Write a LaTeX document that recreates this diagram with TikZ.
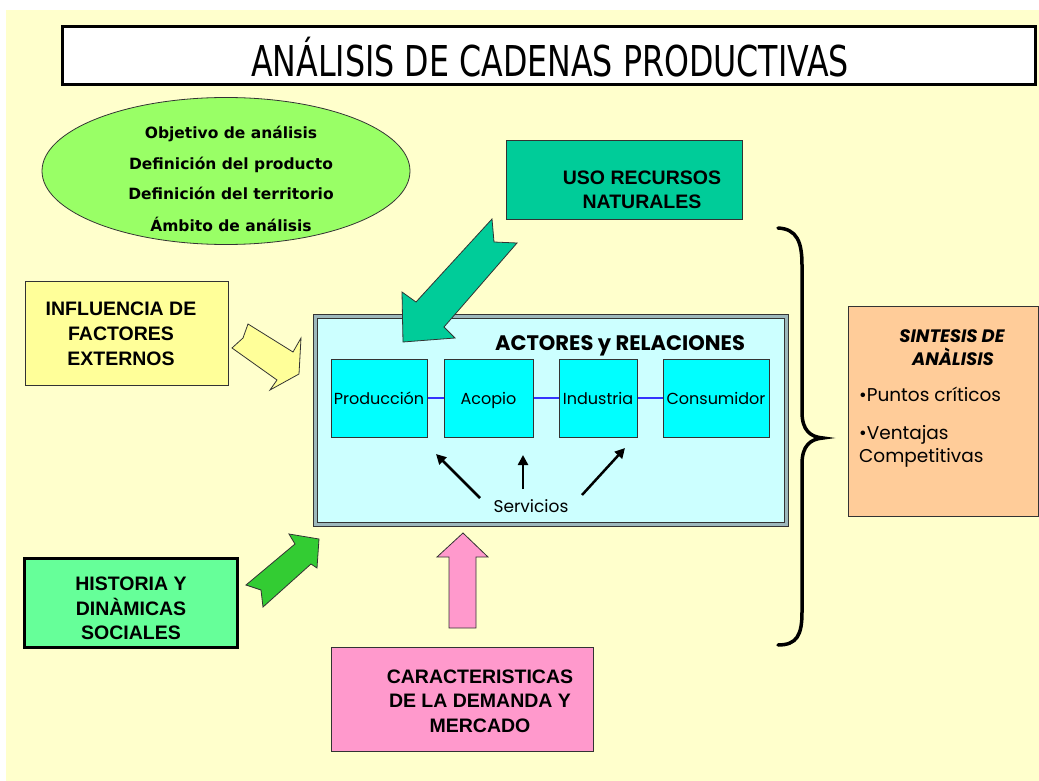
\documentclass[tikz,border=0pt]{standalone}
\usepackage{fontspec}
\setmainfont{Liberation Sans}
\newfontfamily\dvfont{DejaVu Sans}
\newfontfamily\popfont{Poppins}
\usetikzlibrary{arrows.meta}
\definecolor{cream}{HTML}{FFFFCC}
\definecolor{ellgreen}{HTML}{99FF66}
\definecolor{teal}{HTML}{00CC99}
\definecolor{lyellow}{HTML}{FFFF99}
\definecolor{mint}{HTML}{66FF99}
\definecolor{agreen}{HTML}{33CC33}
\definecolor{lcyan}{HTML}{CCFFFF}
\definecolor{cyanbox}{HTML}{00FFFF}
\definecolor{peach}{HTML}{FFCC99}
\definecolor{pink}{HTML}{FF99CC}
\definecolor{band}{HTML}{9DB7BC}
\definecolor{edge}{HTML}{333333}
\definecolor{linkblue}{HTML}{3333FF}
\begin{document}
\begin{tikzpicture}[x=1pt,y=-1pt,
  boxbase/.style={draw=edge, line width=1pt, inner sep=0pt},
  arialb/.style={font=\fontsize{19.5}{24}\selectfont\bfseries, inner sep=0pt, anchor=base},
  elltext/.style={font=\dvfont\fontsize{15.5}{18}\selectfont\bfseries, inner sep=0pt, anchor=base},
  gothic/.style={font=\popfont\fontsize{16}{19}\selectfont, inner sep=0pt, anchor=base},
  sintxt/.style={font=\popfont\fontsize{18.5}{21}\selectfont, inner sep=0pt, anchor=base west},
  sinhead/.style={font=\popfont\fontsize{18}{21}\selectfont\bfseries\itshape, inner sep=0pt, anchor=base},
  blockarrow/.style={draw=edge, line width=0.8pt, line join=miter},
  link/.style={draw=linkblue, line width=1.3pt},
  svcarrow/.style={line width=2.5pt, -{Triangle[length=10pt,width=10pt]}}
]
\useasboundingbox (0,0) rectangle (1039,781);
\fill[white] (0,0) rectangle (1039,781);
\fill[cream] (6,10) rectangle (1039,781);

% title
\node[draw=black, line width=3pt, fill=white, minimum width=973pt, minimum height=58pt, inner sep=0pt] (titlebox) at (549,56) {};
\node[inner sep=0pt, anchor=base, font=\dvfont\fontsize{42.5}{48}\selectfont] (title) at (550,77)
  {\resizebox{598pt}{\height}{ANÁLISIS DE CADENAS PRODUCTIVAS}};

% ellipse
\draw[edge, line width=0.8pt, fill=ellgreen] (226,171) ellipse [x radius=184, y radius=73.5];
\node[elltext] (e1) at (231,139) {Objetivo de análisis};
\node[elltext] (e2) at (231,170) {Definición del producto};
\node[elltext] (e3) at (231,200) {Definición del territorio};
\node[elltext] (e4) at (231,231) {Ámbito de análisis};

% USO RECURSOS NATURALES
\node[boxbase, fill=teal, minimum width=236pt, minimum height=78pt] (uso) at (624,180) {};
\node[arialb] (uso1) at (642,184) {USO RECURSOS};
\node[arialb] (uso2) at (642,208) {NATURALES};

% INFLUENCIA
\node[boxbase, fill=lyellow, minimum width=203pt, minimum height=104pt] (inf) at (126.5,333) {};
\node[arialb] (inf1) at (121,315) {INFLUENCIA DE};
\node[arialb] (inf2) at (121,340) {FACTORES};
\node[arialb] (inf3) at (121,365) {EXTERNOS};

% HISTORIA
\node[draw=black, line width=3pt, fill=mint, minimum width=213pt, minimum height=89pt, inner sep=0pt] (hist) at (130.5,602.5) {};
\node[arialb] (h1) at (131,590) {HISTORIA Y};
\node[arialb] (h2) at (131,615) {DINÀMICAS};
\node[arialb] (h3) at (131,639) {SOCIALES};

% CARACTERISTICAS
\node[boxbase, fill=pink, minimum width=262pt, minimum height=104pt] (car) at (462,699) {};
\node[arialb] (c1) at (480,683) {CARACTERISTICAS};
\node[arialb] (c2) at (480,707) {DE LA DEMANDA Y};
\node[arialb] (c3) at (480,732) {MERCADO};

% SINTESIS
\node[boxbase, fill=peach, minimum width=190pt, minimum height=210pt] (sin) at (943,411) {};
\node[sinhead] (s1) at (952,342) {SINTESIS DE};
\node[sinhead] (s2) at (953,365) {ANÀLISIS};
\node[sintxt] (s3) at (859,401) {•Puntos críticos};
\node[sintxt] (s4) at (859,439) {•Ventajas};
\node[sintxt] (s5) at (859,462) {Competitivas};

% container
\node[draw=edge, line width=1pt, fill=band, minimum width=475pt, minimum height=212pt, inner sep=0pt] (cont) at (550.5,420) {};
\node[draw=edge, line width=1pt, fill=lcyan, minimum width=467pt, minimum height=204pt, inner sep=0pt] (contin) at (550.5,420) {};
\node[inner sep=0pt, anchor=base, font=\popfont\fontsize{21}{24}\selectfont\bfseries] (actores) at (620,350) {ACTORES y RELACIONES};

\node[boxbase, fill=cyanbox, minimum width=96pt, minimum height=78pt] (prod) at (379,398) {};
\node[boxbase, fill=cyanbox, minimum width=89pt, minimum height=78pt] (acop) at (488.5,398) {};
\node[boxbase, fill=cyanbox, minimum width=78pt, minimum height=78pt] (indu) at (598,398) {};
\node[boxbase, fill=cyanbox, minimum width=106pt, minimum height=78pt] (cons) at (716,398) {};
\node[gothic] (prodt) at (379,404) {Producción};
\node[gothic] (acopt) at (488.5,404) {Acopio};
\node[gothic] (indut) at (598,404) {Industria};
\node[gothic] (const) at (716,404) {Consumidor};
\draw[link] (prod.east) -- (acop.west);
\draw[link] (acop.east) -- (indu.west);
\draw[link] (indu.east) -- (cons.west);

\node[gothic, font=\popfont\fontsize{17}{19}\selectfont] (serv) at (531,512) {Servicios};
\coordinate (a1s) at (480,498); \coordinate (a1e) at (436,454);
\coordinate (a2s) at (523,489); \coordinate (a2e) at (523,455);
\coordinate (a3s) at (582,495); \coordinate (a3e) at (625,448);
\draw[svcarrow] (a1s) -- (a1e);
\draw[svcarrow] (a2s) -- (a2e);
\draw[svcarrow] (a3s) -- (a3e);

% block arrows
\draw[blockarrow, fill=teal] (492,219) -- (494,242) -- (517,243) -- (444,327) -- (455,338) -- (403,342) -- (402,292) -- (416,302) -- cycle;
\draw[blockarrow, fill=lyellow] (248,324) -- (293,352) -- (301,338) -- (299,374) -- (270,390) -- (277,380) -- (232,348) -- (243,338) -- cycle;
\draw[blockarrow, fill=agreen] (289,534) -- (319,539) -- (317,568) -- (311,564) -- (263,607) -- (261,590) -- (246,585) -- (295,544) -- cycle;
\draw[blockarrow, fill=pink] (463,533) -- (488,557) -- (476,557) -- (476,628) -- (449,628) -- (449,557) -- (437,557) -- cycle;

% brace
\draw[line width=3.5pt, line cap=round] (778,228) .. controls (797,229) and (802,242) .. (802,265) -- (802,412) .. controls (802,430) and (810,437) .. (823,438) .. controls (810,439) and (802,446) .. (802,464) -- (802,612) .. controls (802,635) and (797,645) .. (778,645);
\end{tikzpicture}
\end{document}
